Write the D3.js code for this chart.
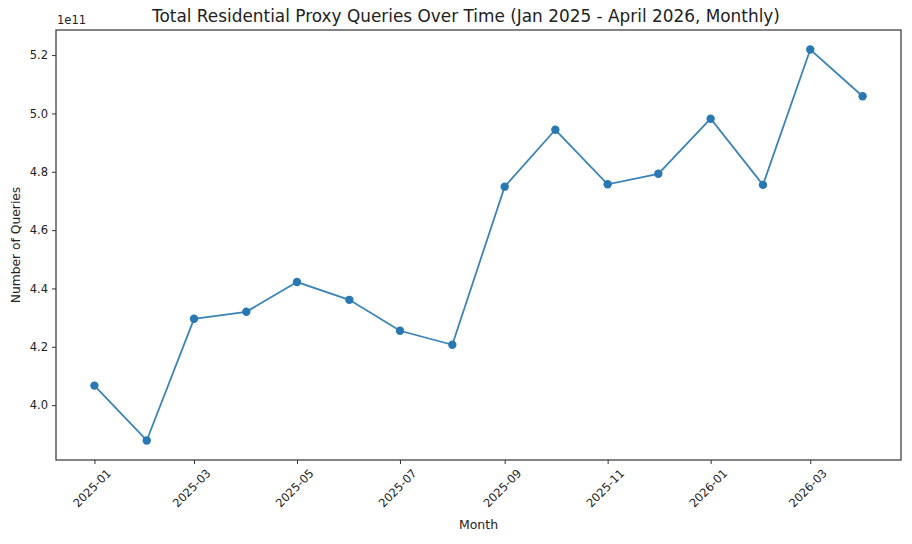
<!DOCTYPE html>
<html>
<head>
<meta charset="utf-8">
<script src="https://cdn.jsdelivr.net/npm/d3@7"></script>
<style>
  body { margin: 0; background: #fff; }
  text { font-family: "DejaVu Sans", sans-serif; fill: #222; }
</style>
</head>
<body>
<div id="chart"></div>
<script>
const months = ['2025-01', '2025-02', '2025-03', '2025-04', '2025-05', '2025-06', '2025-07', '2025-08',
  '2025-09', '2025-10', '2025-11', '2025-12', '2026-01', '2026-02', '2026-03', '2026-04'];
const queries = [4.067e11, 3.879e11, 4.296e11, 4.320e11, 4.422e11, 4.361e11, 4.255e11, 4.207e11,
  4.749e11, 4.944e11, 4.757e11, 4.793e11, 4.982e11, 4.755e11, 5.219e11, 5.059e11];
const xTicks = ['2025-01', '2025-03', '2025-05', '2025-07', '2025-09', '2025-11', '2026-01', '2026-03'];
const yTicks = [4.0, 4.2, 4.4, 4.6, 4.8, 5.0, 5.2];

const width = 912, height = 544;
const margin = { top: 30, right: 11, bottom: 84, left: 56 };
const parse = d3.timeParse('%Y-%m');
const data = months.map((m, i) => ({ date: parse(m), value: queries[i] }));

const svg = d3.select('#chart').append('svg')
  .attr('width', width)
  .attr('height', height);

// 5% padding like matplotlib's default margins
const [t0, t1] = d3.extent(data, d => d.date);
const padT = (t1 - t0) * 0.05;
const [v0, v1] = d3.extent(data, d => d.value);
const padV = (v1 - v0) * 0.05;

const x = d3.scaleTime()
  .domain([new Date(+t0 - padT), new Date(+t1 + padT)])
  .range([margin.left, width - margin.right]);
const y = d3.scaleLinear()
  .domain([v0 - padV, v1 + padV])
  .range([height - margin.bottom, margin.top]);

const xAxis = svg.append('g')
  .attr('transform', `translate(0,${height - margin.bottom})`)
  .call(d3.axisBottom(x).tickValues(xTicks.map(parse)).tickFormat(d3.timeFormat('%Y-%m')).tickSize(4).tickPadding(3));
xAxis.select('.domain').remove();
xAxis.selectAll('line').attr('stroke', '#333');
xAxis.selectAll('text')
  .attr('font-size', 11.5)
  .attr('text-anchor', 'middle')
  .attr('dy', null)
  .attr('y', 0)
  .attr('transform', 'translate(0,31) rotate(-45)');

const yAxis = svg.append('g')
  .attr('transform', `translate(${margin.left},0)`)
  .call(d3.axisLeft(y).tickValues(yTicks.map(v => v * 1e11)).tickFormat(d => (d / 1e11).toFixed(1)).tickSize(4).tickPadding(4));
yAxis.select('.domain').remove();
yAxis.selectAll('line').attr('stroke', '#333');
yAxis.selectAll('text').attr('font-size', 11.5);

// frame
svg.append('rect')
  .attr('x', margin.left)
  .attr('y', margin.top)
  .attr('width', width - margin.left - margin.right)
  .attr('height', height - margin.top - margin.bottom)
  .attr('fill', 'none')
  .attr('stroke', '#333')
  .attr('stroke-width', 1.2);

const line = d3.line()
  .x(d => x(d.date))
  .y(d => y(d.value));

svg.append('path')
  .datum(data)
  .attr('fill', 'none')
  .attr('stroke', '#3a84b8')
  .attr('stroke-width', 1.8)
  .attr('d', line);

svg.selectAll('circle')
  .data(data)
  .enter()
  .append('circle')
  .attr('cx', d => x(d.date))
  .attr('cy', d => y(d.value))
  .attr('r', 4.2)
  .attr('fill', '#2a78b2');

svg.append('text')
  .attr('x', margin.left + 1)
  .attr('y', margin.top - 6)
  .attr('font-size', 11.5)
  .text('1e11');

svg.append('text')
  .attr('x', 466)
  .attr('y', 22)
  .attr('text-anchor', 'middle')
  .attr('font-size', 16.9)
  .text('Total Residential Proxy Queries Over Time (Jan 2025 - April 2026, Monthly)');

svg.append('text')
  .attr('x', (margin.left + width - margin.right) / 2)
  .attr('y', 529)
  .attr('text-anchor', 'middle')
  .attr('font-size', 12.5)
  .text('Month');

svg.append('text')
  .attr('transform', `translate(20,${(margin.top + height - margin.bottom) / 2}) rotate(-90)`)
  .attr('text-anchor', 'middle')
  .attr('font-size', 12.3)
  .text('Number of Queries');
</script>
</body>
</html>
